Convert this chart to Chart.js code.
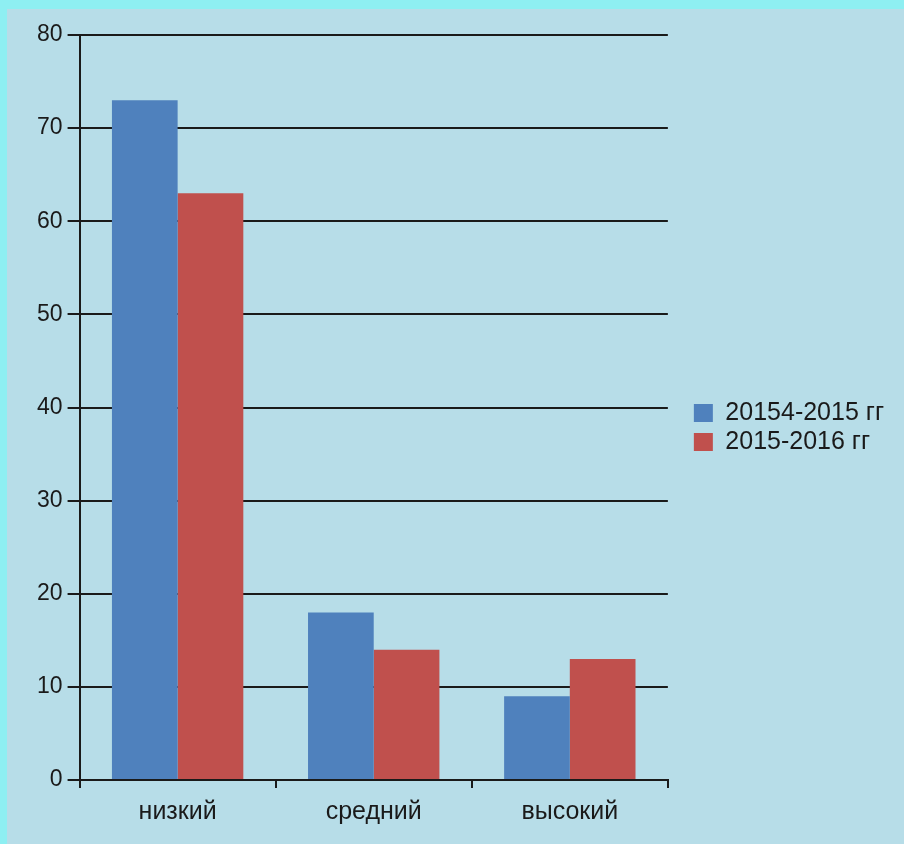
<!DOCTYPE html>
<html>
<head>
<meta charset="utf-8">
<script src="https://cdn.jsdelivr.net/npm/chart.js@4"></script>
<style>
  html, body { margin: 0; padding: 0; background: #8eeff2; }
  #panel { position: absolute; left: 7px; top: 9px; width: 897px; height: 835px; background: #b7dde8; }
  #wrap { position: absolute; left: 0; top: 0; width: 904px; height: 844px; }
</style>
</head>
<body>
<div id="panel"></div>
<div id="wrap"><canvas id="grafico"></canvas></div>
<script>
const categorias = ['низкий', 'средний', 'высокий'];
const serie1 = [73, 18, 9];
const serie2 = [63, 14, 13];
const nombres = ['20154-2015 гг', '2015-2016 гг'];
const ticksY = [0, 10, 20, 30, 40, 50, 60, 70, 80];

Chart.defaults.font.family = '"Liberation Sans", Arial, sans-serif';
Chart.defaults.font.size = 22;
Chart.defaults.color = '#1a1a1a';

// mueve la leyenda un poco a la derecha y arriba
const moverLeyenda = {
  id: 'moverLeyenda',
  afterLayout(chart) {
    const l = chart.legend;
    l.left += 22; l.right += 22;
    l.top -= 8; l.bottom -= 8;
  }
};

const ctx = document.getElementById('grafico').getContext('2d');
new Chart(ctx, {
  type: 'bar',
  data: {
    labels: categorias,
    datasets: [
      { label: nombres[0], data: serie1, backgroundColor: '#4f81bd' },
      { label: nombres[1], data: serie2, backgroundColor: '#c0504d' }
    ]
  },
  options: {
    responsive: true,
    maintainAspectRatio: false,
    animation: false,
    categoryPercentage: 0.67,
    barPercentage: 1.0,
    layout: { padding: { left: 32, top: 35, bottom: 8, right: 32 } },
    plugins: {
      tooltip: { enabled: false },
      legend: {
        position: 'right',
        labels: { boxWidth: 19, boxHeight: 18, padding: 4, color: '#1a1a1a', font: { size: 25 } }
      }
    },
    scales: {
      x: {
        grid: { drawOnChartArea: false, color: '#1a1a1a', lineWidth: 2, tickLength: 8 },
        border: { color: '#1a1a1a', width: 2 },
        ticks: { padding: 9, font: { size: 25 } }
      },
      y: {
        min: 0,
        max: 80,
        afterBuildTicks: axis => { axis.ticks = ticksY.map(v => ({ value: v })); },
        grid: { color: '#1a1a1a', lineWidth: 2, tickLength: 12 },
        border: { color: '#1a1a1a', width: 2 },
        ticks: { padding: 5, font: { size: 23 } }
      }
    }
  },
  plugins: [moverLeyenda]
});
</script>
</body>
</html>
